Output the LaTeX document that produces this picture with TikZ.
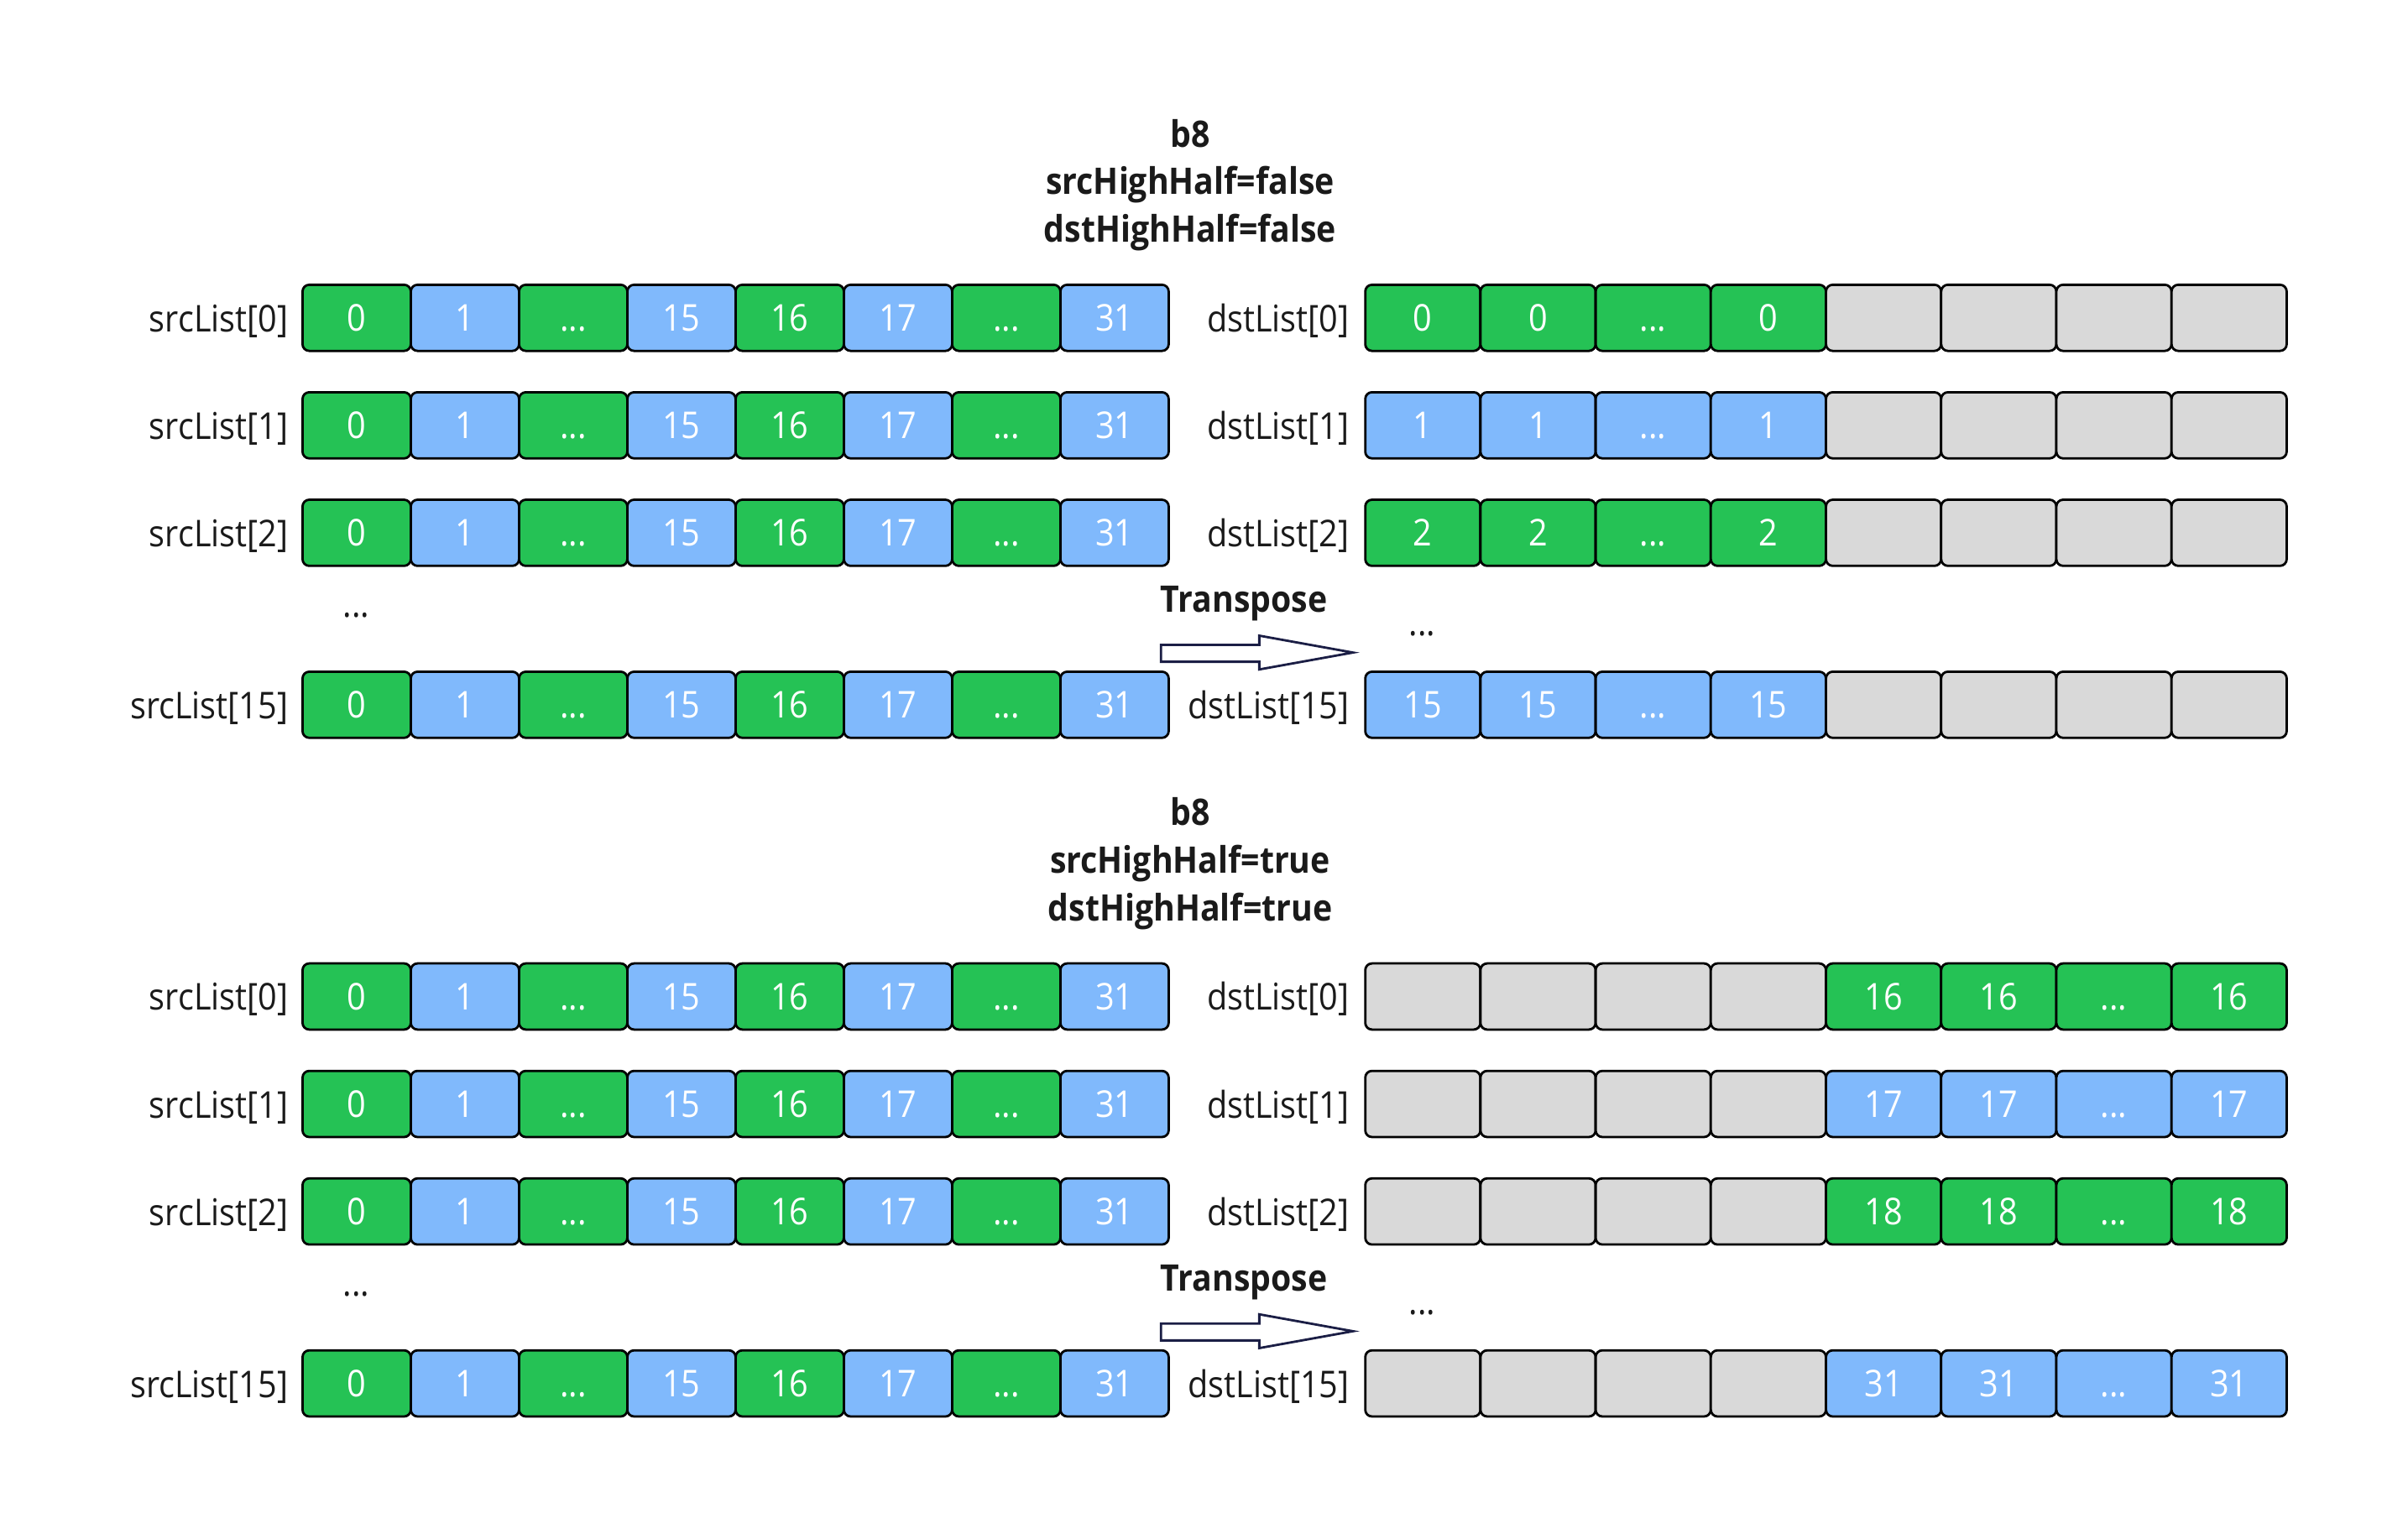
\documentclass[tikz,border=0pt]{standalone}
\usepackage{fontspec}
\setmainfont{Open Sans}[FakeStretch=0.9]
\definecolor{cg}{HTML}{25C255}
\definecolor{cb}{HTML}{80B9FC}
\definecolor{cgr}{HTML}{D9D9D9}
\definecolor{navy}{HTML}{1B1E45}
\definecolor{txt}{HTML}{1A1A1A}
\newcommand{\mydots}{...}
\begin{document}
\begin{tikzpicture}[x=0.4574pt,y=-0.4574pt,
  cell/.style={draw=black, line width=0.7pt, rounded corners=2pt, minimum height=19.7pt,
    inner sep=0pt, outer sep=0pt, text=white, text height=7.9pt, text depth=0pt,
    font=\fontsize{11}{13}\selectfont},
  scell/.style={cell, minimum width=32.25pt},
  dcell/.style={cell, minimum width=34.3pt},
  lbl/.style={anchor=base east, inner sep=0pt, text=txt, font=\fontsize{11}{13}\selectfont},
  dots/.style={anchor=base, inner sep=0pt, text=txt, font=\fontsize{11}{13}\selectfont},
  ttl/.style={align=center, inner sep=0pt, text=txt, font=\bfseries\fontsize{10.9}{14.2}\selectfont},
  blockarrow/.style={draw=navy, line width=0.7pt, fill=white, line join=miter}]
\useasboundingbox (0,0) rectangle (1568,1002);

% titles
\node[ttl] (t0) at (775,120.5) {b8\\srcHighHalf=false\\dstHighHalf=false};
\node[ttl] (t1) at (775,562.5) {b8\\srcHighHalf=true\\dstHighHalf=true};

\foreach \sec/\yo in {0/0,1/442} {
  % source rows
  \foreach \r/\yy/\idx in {0/207/0,1/277/1,2/347/2,3/459/15} {
    \node[lbl] (sl\sec\r) at (188,\yy+\yo+9) {srcList[\idx]};
    \foreach \c/\t/\col in {0/0/cg,1/1/cb,2/\mydots/cg,3/15/cb,4/16/cg,5/17/cb,6/\mydots/cg,7/31/cb} {
      \node[scell, fill=\col] (s\sec\r c\c) at (232.25+70.5*\c,\yy+\yo) {\t};
    }
  }
  % destination rows
  \foreach \r/\yy/\idx/\col in {0/207/0/cg,1/277/1/cb,2/347/2/cg,3/459/15/cb} {
    \pgfmathtruncatemacro\v{\idx+16*\sec}
    \node[lbl] (dl\sec\r) at (879,\yy+\yo+9) {dstList[\idx]};
    \foreach \c in {0,...,7} {
      \pgfmathtruncatemacro\k{\c-4*\sec}
      \ifnum\k<0
        \node[dcell, fill=cgr] (d\sec\r c\c) at (926.5+75*\c,\yy+\yo) {};
      \else\ifnum\k>3
        \node[dcell, fill=cgr] (d\sec\r c\c) at (926.5+75*\c,\yy+\yo) {};
      \else
        \node[dcell, fill=\col] (d\sec\r c\c) at (926.5+75*\c,\yy+\yo) {\ifnum\k=2 \mydots\else\v\fi};
      \fi\fi
    }
  }
  % ellipses
  \node[dots] (sd\sec) at (232,402+\yo) {\mydots};
  \node[dots] (dd\sec) at (926,414+\yo) {\mydots};
  % transpose arrow
  \node[ttl] (tr\sec) at (810,393+\yo) {Transpose};
  \draw[blockarrow] (756,420+\yo) -- (820,420+\yo) -- (820,414+\yo) -- (881,425+\yo)
    -- (820,436+\yo) -- (820,431+\yo) -- (756,431+\yo) -- cycle;
}
\end{tikzpicture}
\end{document}
